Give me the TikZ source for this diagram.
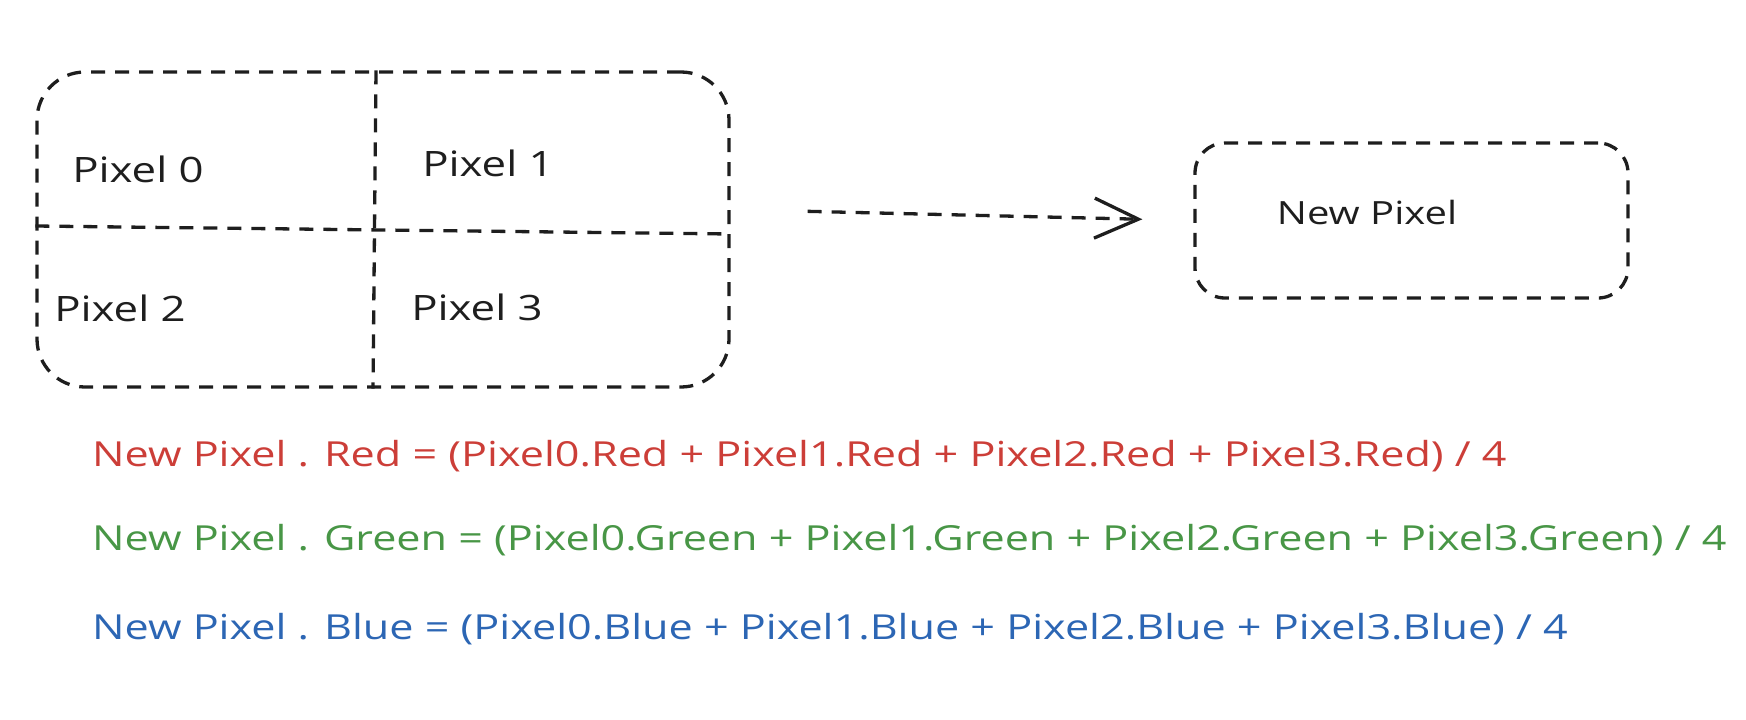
\documentclass[tikz,border=0pt]{standalone}
\usepackage{fontspec}
\setmainfont{Open Sans}[FakeStretch=1.25]
\usetikzlibrary{arrows.meta}

\definecolor{ink}{RGB}{30,30,30}
\definecolor{redtxt}{RGB}{204,62,56}
\definecolor{greentxt}{RGB}{72,150,70}
\definecolor{bluetxt}{RGB}{44,102,180}

\tikzset{
  dashline/.style={draw=ink, line width=3.3pt, dash pattern=on 14pt off 10pt},
  dashbox/.style={dashline, rounded corners=48pt},
  pixlabel/.style={text=ink, font=\fontsize{35}{40}\selectfont},
  formula/.style={anchor=west, inner sep=0pt, font=\fontsize{34.5}{40}\selectfont},
}

\begin{document}
\begin{tikzpicture}[x=1pt,y=-1pt]
\useasboundingbox (0,0) rectangle (1746,720);

% the four old pixels
\node[dashbox, minimum width=692pt, minimum height=315pt] (grid) at (383,229.5) {};
\draw[dashline] ([xshift=-7pt]grid.north) -- ([xshift=-10pt]grid.south);
\draw[dashline] ([yshift=3.5pt]grid.west) -- ([yshift=-4.5pt]grid.east);

\node[pixlabel] (pix0) at (138,169) {Pixel 0};
\node[pixlabel] (pix1) at (488,163) {Pixel 1};
\node[pixlabel] (pix2) at (120,308) {Pixel 2};
\node[pixlabel] (pix3) at (477,307) {Pixel 3};

% the new pixel
\node[dashbox, rounded corners=30pt, minimum width=433pt, minimum height=155pt] (newpix) at (1411.5,220.5) {};
\node[pixlabel, font=\fontsize{32}{38}\selectfont] (newlabel) at (1367,212) {New Pixel};

\draw[dashline, shorten <=77pt, shorten >=51pt, -{Straight Barb[length=44pt, width=40pt, line width=3.3pt]}]
  ([yshift=20pt]grid.east) -- (newpix.west);

% averages
\node[formula, text=redtxt] (red) at (92,456) {New Pixel . Red = (Pixel0.Red + Pixel1.Red + Pixel2.Red + Pixel3.Red) / 4};
\node[formula, text=greentxt] (green) at (92,540) {New Pixel . Green = (Pixel0.Green + Pixel1.Green + Pixel2.Green + Pixel3.Green) / 4};
\node[formula, text=bluetxt] (blue) at (92,629) {New Pixel . Blue = (Pixel0.Blue + Pixel1.Blue + Pixel2.Blue + Pixel3.Blue) / 4};

\end{tikzpicture}
\end{document}
